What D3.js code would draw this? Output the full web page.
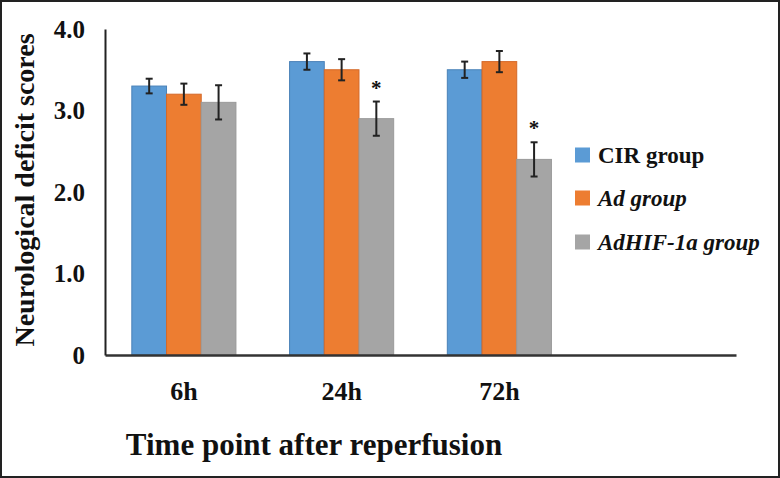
<!DOCTYPE html>
<html>
<head>
<meta charset="utf-8">
<script src="https://cdn.jsdelivr.net/npm/d3@7"></script>
<style>
  body { margin: 0; background: #fff; }
</style>
</head>
<body>
<div id="chart"></div>
<script>
// Data
const timePoints = ['6h', '24h', '72h', '']
const groups = ['CIR group', 'Ad group', 'AdHIF-1a group']
const groupColors = ['#5b9bd5', '#ed7d31', '#a5a5a5']
const groupEdges = ['#4a82b8', '#d4692a', '#9a9a9a']
const cirValues = [3.3, 3.6, 3.5]
const adValues = [3.2, 3.5, 3.6]
const hifValues = [3.1, 2.9, 2.4]
const cirErrors = [0.09, 0.1, 0.1]
const adErrors = [0.13, 0.13, 0.13]
const hifErrors = [0.21, 0.21, 0.21]
const hifSignificant = [false, true, true]
const yTicks = [0, 1, 2, 3, 4]

const serif = '"Liberation Serif", "Times New Roman", "DejaVu Serif", serif'

function draw() {
  const dimensions = { width: 780, height: 478 }
  const plot = { left: 105, right: 736, top: 29, bottom: 355 }

  const svg = d3.select('#chart')
    .append('svg')
    .attr('width', dimensions.width)
    .attr('height', dimensions.height)

  // frame round the figure
  svg.append('rect')
    .attr('x', 1).attr('y', 1)
    .attr('width', dimensions.width - 2)
    .attr('height', dimensions.height - 2)
    .attr('fill', '#fff')
    .attr('stroke', '#222')
    .attr('stroke-width', 2)

  // Scales
  const xScale = d3.scaleBand()
    .domain(timePoints)
    .range([plot.left, plot.right])
    .paddingInner(0.34)
    .paddingOuter(0.17)

  const subScale = d3.scaleBand()
    .domain(groups)
    .range([0, xScale.bandwidth()])

  const yScale = d3.scaleLinear()
    .domain([0, 4])
    .range([plot.bottom, plot.top])

  // rows: one per time point and group
  const valueSets = [cirValues, adValues, hifValues]
  const errorSets = [cirErrors, adErrors, hifErrors]
  const rows = []
  timePoints.slice(0, 3).forEach((t, i) => {
    groups.forEach((g, j) => {
      rows.push({ time: t, group: g, gi: j, value: valueSets[j][i], err: errorSets[j][i],
        star: j === 2 && hifSignificant[i] })
    })
  })

  // Bars
  svg.append('g')
    .selectAll('rect')
    .data(rows)
    .join('rect')
    .attr('x', d => xScale(d.time) + subScale(d.group))
    .attr('y', d => yScale(d.value))
    .attr('width', subScale.bandwidth())
    .attr('height', d => yScale(0) - yScale(d.value))
    .attr('fill', d => groupColors[d.gi])
    .attr('stroke', d => groupEdges[d.gi])
    .attr('stroke-width', 1)

  // Error bars
  const errG = svg.append('g')
    .attr('stroke', '#222')
    .attr('stroke-width', 2)
  const cx = d => xScale(d.time) + subScale(d.group) + subScale.bandwidth() / 2
  rows.forEach(d => {
    const top = yScale(d.value + d.err)
    const bot = yScale(d.value - d.err)
    errG.append('line').attr('x1', cx(d)).attr('x2', cx(d)).attr('y1', top).attr('y2', bot)
    errG.append('line').attr('x1', cx(d) - 3.5).attr('x2', cx(d) + 3.5).attr('y1', top).attr('y2', top)
    errG.append('line').attr('x1', cx(d) - 3.5).attr('x2', cx(d) + 3.5).attr('y1', bot).attr('y2', bot)
  })

  // significance marks
  svg.append('g')
    .selectAll('text')
    .data(rows.filter(d => d.star))
    .join('text')
    .attr('x', cx)
    .attr('y', d => yScale(d.value + d.err) - 7)
    .attr('text-anchor', 'middle')
    .style('font-family', serif)
    .style('font-weight', 'bold')
    .style('font-size', '21px')
    .attr('fill', '#111')
    .text('*')

  // Axes
  const xAxis = d3.axisBottom(xScale)
    .tickSize(0)
    .tickPadding(27)
  const xAxisGroup = svg.append('g')
    .attr('transform', `translate(0, ${plot.bottom})`)
    .call(xAxis)
  xAxisGroup.select('.domain').attr('stroke', '#333').attr('stroke-width', 2.5)
  xAxisGroup.selectAll('text')
    .style('font-family', serif)
    .style('font-weight', 'bold')
    .style('font-size', '26px')
    .attr('fill', '#111')

  const yAxis = d3.axisLeft(yScale)
    .tickValues(yTicks)
    .tickSize(0)
    .tickPadding(20)
    .tickFormat(v => v === 0 ? '0' : d3.format('.1f')(v))
  const yAxisGroup = svg.append('g')
    .attr('transform', `translate(${plot.left}, 0)`)
    .call(yAxis)
  yAxisGroup.select('.domain').attr('stroke', '#222').attr('stroke-width', 2)
  yAxisGroup.selectAll('text')
    .style('font-family', serif)
    .style('font-weight', 'bold')
    .style('font-size', '25px')
    .attr('fill', '#111')

  // Axis titles
  svg.append('text')
    .attr('transform', 'translate(34, 190) rotate(-90)')
    .attr('text-anchor', 'middle')
    .style('font-family', serif)
    .style('font-weight', 'bold')
    .style('font-size', '28px')
    .attr('fill', '#111')
    .text('Neurological deficit scores')

  svg.append('text')
    .attr('x', 314)
    .attr('y', 455)
    .attr('text-anchor', 'middle')
    .style('font-family', serif)
    .style('font-weight', 'bold')
    .style('font-size', '31px')
    .attr('fill', '#111')
    .text('Time point after reperfusion')

  // Legend
  const legendY = [155, 198, 242]
  const legend = svg.append('g')
    .selectAll('g')
    .data(groups)
    .join('g')
    .attr('transform', (d, i) => `translate(575, ${legendY[i]})`)
  legend.append('rect')
    .attr('x', 0).attr('y', -7.5)
    .attr('width', 15).attr('height', 15)
    .attr('fill', (d, i) => groupColors[i])
  legend.append('text')
    .attr('x', 23)
    .attr('y', 8)
    .style('font-family', serif)
    .style('font-weight', 'bold')
    .style('font-size', '23px')
    .style('font-style', (d, i) => i === 0 ? 'normal' : 'italic')
    .attr('fill', '#111')
    .text(d => d)
}

draw()
</script>
</body>
</html>
